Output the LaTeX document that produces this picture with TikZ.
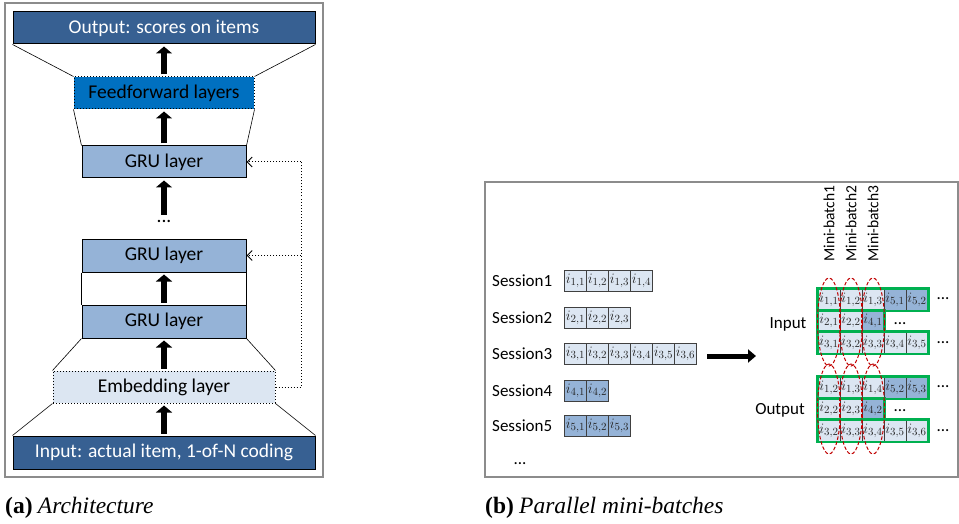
\documentclass[tikz,border=0pt]{standalone}
\usepackage{fontspec}
\setmainfont{Carlito}
\newfontfamily\capfont{Liberation Serif}
\usetikzlibrary{arrows.meta,calc}
\definecolor{deepblue}{HTML}{376092}
\definecolor{ffblue}{HTML}{0070C0}
\definecolor{grublue}{HTML}{95B3D7}
\definecolor{paleblue}{HTML}{DCE6F2}
\definecolor{frameg}{HTML}{8C8C8C}
\definecolor{batchgreen}{HTML}{00B050}
\definecolor{loopred}{HTML}{C00000}

% one row of item cells: node prefix, y, list of label/fill
\newcommand\gridrow[3]{%
  \foreach \lab/\f [count=\c] in {#3}
    \node[cellbox, fill=\f] (#1\c) at ({829+22*(\c-1)},#2) {$i_{\lab}$};
}
% sub-figure caption: bold tag, italic title, in a Times-like face
\newcommand\subcap[2]{{\capfont\bfseries (#1)} {\capfont\itshape #2}}

\begin{document}
\begin{tikzpicture}[x=1pt,y=-1pt,
  layer/.style={draw=black, line width=1pt, minimum height=32pt, inner sep=0pt,
    font=\fontsize{19.5}{20}\selectfont},
  dotlayer/.style={layer, dotted},
  fat/.style={line width=6pt, -{Triangle[width=16pt,length=7pt]}, shorten <=2pt, shorten >=2pt},
  feedback/.style={dotted, line width=1pt},
  fbtip/.style={-{Straight Barb[length=5pt,width=10pt,line width=1pt]}},
  trap/.style={line width=0.6pt},
  panel/.style={draw=frameg, line width=1.3pt},
  sesslabel/.style={anchor=west, inner sep=0pt, font=\fontsize{17}{17}\selectfont},
  cellbox/.style={draw=black!75, line width=0.9pt, minimum width=22pt, minimum height=21.5pt,
    inner sep=0pt, text=black!85, font=\fontsize{15.5}{15.5}\selectfont},
  greenbox/.style={draw=batchgreen, line width=2.4pt},
  batchloop/.style={draw=loopred, dash pattern=on 3.5pt off 2pt, line width=1pt},
  plain17/.style={inner sep=0pt, font=\fontsize{17}{17}\selectfont},
  caption/.style={anchor=west, inner sep=0pt, font=\fontsize{23.5}{24}\selectfont}]
\useasboundingbox (0,0) rectangle (959,524);

% ---------- (a) architecture ----------
\draw[panel] (5,3) rectangle (323,477);

\node[layer, fill=deepblue, text=white, minimum width=302pt] (out) at (164,28) {Output: scores on items};
\node[dotlayer, fill=ffblue, minimum width=180pt] (ff) at (164,93) {Feedforward layers};
\node[layer, fill=grublue, minimum width=164pt] (gruC) at (164,162) {GRU layer};
\node[inner sep=0pt, font=\fontsize{19.5}{20}\selectfont] (vdots) at (164,221) {...};
\node[layer, fill=grublue, minimum width=164pt, minimum height=33pt] (gruB) at (164,255.5) {GRU layer};
\node[layer, fill=grublue, minimum width=164pt, minimum height=33pt] (gruA) at (164,321.5) {GRU layer};
\node[dotlayer, fill=paleblue, minimum width=222pt] (emb) at (164,387) {Embedding layer};
\node[layer, fill=deepblue, text=white, minimum width=302pt, minimum height=33pt] (inp) at (164,452.5) {Input: actual item, 1-of-N coding};

% funnel outlines between layers
\draw[trap] (out.south west) -- (ff.north west) (out.south east) -- (ff.north east);
\draw[trap] (ff.south west) -- (gruC.north west) (ff.south east) -- (gruC.north east);
\draw[trap] (gruB.south west) -- (gruA.north west) (gruB.south east) -- (gruA.north east);
\draw[trap] (gruA.south west) -- (emb.north west) (gruA.south east) -- (emb.north east);
\draw[trap] (emb.south west) -- (inp.north west) (emb.south east) -- (inp.north east);

% forward flow
\draw[fat] (ff.north) -- (out.south);
\draw[fat] (gruC.north) -- (ff.south);
\draw[fat, shorten <=5pt] (vdots.north) -- (gruC.south);
\draw[fat] (gruA.north) -- (gruB.south);
\draw[fat] (emb.north) -- (gruA.south);
\draw[fat] (inp.north) -- (emb.south);

% embedding fed to every GRU layer
\coordinate (fbBot) at (301,387);
\coordinate (fbTop) at (301,162);
\draw[feedback] (emb.east) -- (fbBot) -- (fbTop);
\draw[feedback, fbtip] (fbTop) -- (gruC.east);
\draw[feedback, fbtip] (fbTop |- gruB.east) -- (gruB.east);

\node[caption] (capA) at (5,508) {\subcap{a}{Architecture}};

% ---------- (b) parallel mini-batches ----------
\draw[panel] (485,182) rectangle (958,477);

\foreach \r/\n/\y/\f in {1/4/281/paleblue, 2/3/318/paleblue, 3/6/354/paleblue, 4/2/391/grublue, 5/3/426/grublue} {
  \node[sesslabel] (sess\r) at (492,\y) {Session\r};
  \foreach \c in {1,...,\n}
    \node[cellbox, fill=\f] (s\r c\c) at ({575.5+22*(\c-1)},\y) {$i_{\r,\c}$};
}
\node[plain17] (sessMore) at (520,464) {...};

\coordinate (bigL) at (707,356);
\coordinate (bigR) at (756,356);
\draw[line width=5pt, -{Triangle[width=13pt,length=8pt]}] (bigL) -- (bigR);

% input mini-batches
\gridrow{inA}{299.5}{{1,1}/paleblue, {1,2}/paleblue, {1,3}/paleblue, {5,1}/grublue, {5,2}/grublue}
\gridrow{inB}{321}{{2,1}/paleblue, {2,2}/paleblue, {4,1}/grublue}
\gridrow{inC}{342.5}{{3,1}/paleblue, {3,2}/paleblue, {3,3}/paleblue, {3,4}/paleblue, {3,5}/paleblue}
% output mini-batches
\gridrow{outA}{387.5}{{1,2}/paleblue, {1,3}/paleblue, {1,4}/paleblue, {5,2}/grublue, {5,3}/grublue}
\gridrow{outB}{409}{{2,2}/paleblue, {2,3}/paleblue, {4,2}/grublue}
\gridrow{outC}{430.5}{{3,2}/paleblue, {3,3}/paleblue, {3,4}/paleblue, {3,5}/paleblue, {3,6}/paleblue}

\foreach \rw in {inA, inC, outA, outC}
  \draw[greenbox] (\rw1.north west) rectangle (\rw5.south east);
\foreach \rw in {inB, outB}
  \draw[greenbox] (\rw1.north west) rectangle (\rw3.south east);

\node[plain17] (dInA) at (943,299) {...};
\node[plain17] (dInB) at (900,324) {...};
\node[plain17] (dInC) at (943,343) {...};
\node[plain17] (dOutA) at (943,387) {...};
\node[plain17] (dOutB) at (900,411) {...};
\node[plain17] (dOutC) at (943,431) {...};

\node[plain17] (lblIn) at (788,324) {Input};
\node[plain17] (lblOut) at (780,410) {Output};

\foreach \c in {1,2,3} {
  \node[anchor=west, rotate=90, inner sep=0pt, font=\fontsize{15.5}{16}\selectfont]
    (mb\c) at ($(inA\c)+(0,-37.5)$) {Mini-batch\c};
  \draw[batchloop] ($(inA\c)!0.5!(inC\c)+(0,1)$) ellipse [x radius=11.5, y radius=44];
  \draw[batchloop] ($(outA\c)!0.5!(outC\c)$) ellipse [x radius=11.5, y radius=45];
}

\node[caption] (capB) at (485,508) {\subcap{b}{Parallel mini-batches}};
\end{tikzpicture}
\end{document}
